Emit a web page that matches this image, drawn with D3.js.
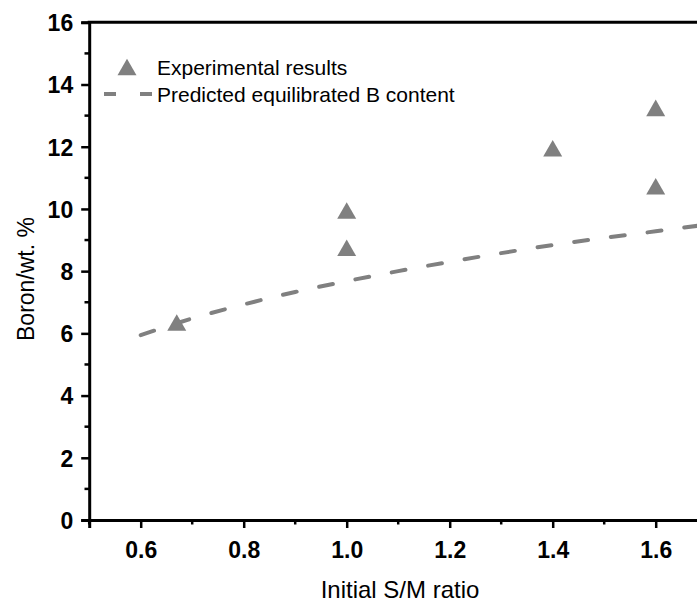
<!DOCTYPE html>
<html>
<head>
<meta charset="utf-8">
<script src="https://cdn.jsdelivr.net/npm/d3@7"></script>
<style>
  body { margin: 0; background: #fff; }
  svg { display: block; font-family: 'Liberation Sans', Arial, sans-serif; }
</style>
</head>
<body>
<svg id="chart"></svg>
<script>
// experimental points (initial S/M ratio, boron wt.%)
const expRatio = [0.67, 1.0, 1.0, 1.4, 1.6, 1.6];
const expBoron = [6.35, 9.95, 8.75, 11.95, 13.25, 10.73];

// predicted equilibrated B content
const predRatio = [0.6, 0.7, 0.8, 0.9, 1.0, 1.1, 1.2, 1.3, 1.4, 1.5, 1.6, 1.7];
const predBoron = [5.94, 6.48, 6.93, 7.33, 7.68, 8.0, 8.3, 8.58, 8.84, 9.07, 9.28, 9.5];

const xTicks = [0.6, 0.8, 1.0, 1.2, 1.4, 1.6];
const yTicks = [0, 2, 4, 6, 8, 10, 12, 14, 16];

const width = 697, height = 602;
const grey = '#808080';

const svg = d3.select('#chart').attr('width', width).attr('height', height);

// scales - x axis runs to 1.7, cropped at the right edge of the picture
const x = d3.scaleLinear().domain([0.5, 1.7]).range([89.2, 707.2]);
const y = d3.scaleLinear().domain([0, 16]).range([520, 22.3]);

// minor ticks
const xMinor = d3.range(0.5, 1.71, 0.1).filter(v => !xTicks.some(t => Math.abs(t - v) < 1e-6));
const yMinor = d3.range(1, 16, 2);

svg.append('g')
  .selectAll('line')
  .data(xMinor)
  .join('line')
  .attr('x1', d => x(d)).attr('x2', d => x(d))
  .attr('y1', 520).attr('y2', 524.5)
  .attr('stroke', '#000').attr('stroke-width', 2.5);

svg.append('g')
  .selectAll('line')
  .data(yMinor)
  .join('line')
  .attr('y1', d => y(d)).attr('y2', d => y(d))
  .attr('x1', 89.2).attr('x2', 84.5)
  .attr('stroke', '#000').attr('stroke-width', 2.5);

// x axis
const xAxis = svg.append('g')
  .attr('transform', 'translate(0,520)')
  .call(d3.axisBottom(x).tickValues(xTicks).tickFormat(d3.format('.1f')).tickSizeOuter(0).tickSize(8).tickPadding(8));

// y axis
const yAxis = svg.append('g')
  .attr('transform', 'translate(89.2,0)')
  .call(d3.axisLeft(y).tickValues(yTicks).tickSizeOuter(0).tickSize(8).tickPadding(8));

[xAxis, yAxis].forEach(g => {
  g.select('.domain').attr('stroke', '#000').attr('stroke-width', 3);
  g.selectAll('.tick line').attr('stroke', '#000').attr('stroke-width', 2.5);
  g.selectAll('.tick text')
    .attr('fill', '#000')
    .style('font-family', "'Liberation Sans', Arial, sans-serif")
    .style('font-size', '23px')
    .style('font-weight', 'bold');
});
xAxis.selectAll('.tick text').attr('dy', '0.95em');
yAxis.selectAll('.tick text').attr('dy', '0.36em');

// top frame line
svg.append('line')
  .attr('x1', 87.7).attr('x2', width)
  .attr('y1', 22.3).attr('y2', 22.3)
  .attr('stroke', '#000').attr('stroke-width', 3);

// dashed predicted curve
const line = d3.line()
  .x(d => x(d[0]))
  .y(d => y(d[1]))
  .curve(d3.curveMonotoneX);

svg.append('path')
  .datum(predRatio.map((r, i) => [r, predBoron[i]]))
  .attr('d', line)
  .attr('fill', 'none')
  .attr('stroke', grey)
  .attr('stroke-width', 4)
  .attr('stroke-linecap', 'round')
  .attr('stroke-dasharray', '14 23');

// triangle markers
const tri = (cx, cy) => {
  const w = 9.5, h = 8.3;
  return `M${cx},${cy - h}L${cx + w},${cy + h}L${cx - w},${cy + h}Z`;
};

svg.append('g')
  .selectAll('path')
  .data(expRatio.map((r, i) => [r, expBoron[i]]))
  .join('path')
  .attr('d', d => tri(x(d[0]), y(d[1])))
  .attr('fill', grey);

// legend
const legend = svg.append('g').style('font-size', '21px');
legend.append('path').attr('d', tri(127, 67)).attr('fill', grey);
legend.append('text').attr('x', 157).attr('y', 75).text('Experimental results');
legend.append('line')
  .attr('x1', 104).attr('x2', 152)
  .attr('y1', 94).attr('y2', 94)
  .attr('stroke', grey).attr('stroke-width', 4)
  .attr('stroke-dasharray', '12 24');
legend.append('line')
  .attr('x1', 140).attr('x2', 152)
  .attr('y1', 94).attr('y2', 94)
  .attr('stroke', grey).attr('stroke-width', 4);
legend.append('text').attr('x', 157).attr('y', 102).text('Predicted equilibrated B content');

// axis titles
svg.append('text')
  .attr('x', 400).attr('y', 598)
  .attr('text-anchor', 'middle')
  .style('font-size', '24px')
  .text('Initial S/M ratio');

svg.append('text')
  .attr('transform', 'translate(34,279) rotate(-90)')
  .attr('text-anchor', 'middle')
  .style('font-size', '23px')
  .text('Boron/wt. %');
</script>
</body>
</html>
